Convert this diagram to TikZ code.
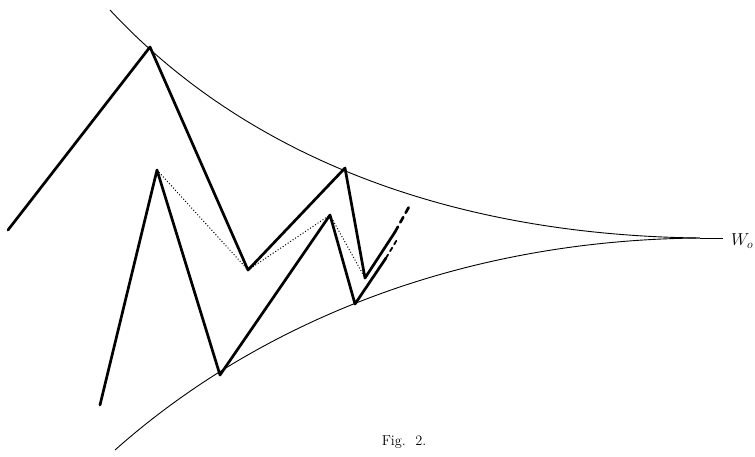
\documentclass[tikz,border=0pt]{standalone}
\usepackage{tikz}

\begin{document}
\begin{tikzpicture}[x=1pt,y=-1pt,
  edge/.style={line width=2.7pt,line cap=round,line join=round},
  bound/.style={line width=0.9pt},
  guide/.style={line width=1pt,dotted}]
\useasboundingbox (0,0) rectangle (755,456);
% envelope curves
\coordinate (top) at (110,10);
\coordinate (bot) at (115,450);
\coordinate (w) at (700,238);
\coordinate (wend) at (723,238);
\draw[bound] (top) .. controls (240,150) and (440,235) .. (w);
\draw[bound] (bot) .. controls (250,330) and (450,240) .. (w);
\draw[bound] (w) -- (wend);
\node[anchor=west,inner sep=0pt,font=\LARGE] (wlab) at (731,241) {$W_o$};
% outer zigzag
\coordinate (a0) at (8,230);  \coordinate (a1) at (150,47);
\coordinate (a2) at (248,270); \coordinate (a3) at (345,168);
\coordinate (a4) at (365,278); \coordinate (a5) at (395,232);
\coordinate (a6) at (410,205);
\draw[edge] (a0)--(a1)--(a2)--(a3)--(a4)--(a5);
\draw[edge,dash pattern=on 6pt off 5pt] (a5)--(a6);
% inner zigzag
\coordinate (b0) at (100,405); \coordinate (b1) at (157,170);
\coordinate (b2) at (220,375); \coordinate (b3) at (330,215);
\coordinate (b4) at (355,304); \coordinate (b5) at (386,258);
\coordinate (b6) at (398,238);
\draw[edge] (b0)--(b1)--(b2)--(b3)--(b4)--(b5);
\draw[edge,line width=1.8pt,dash pattern=on 4pt off 4pt] (b5)--(b6);
% dotted links
\draw[guide] (b1)--(a2)--(b3)--(a4);
\node[font=\Large] (cap) at (404,442) {Fig.\ \ 2.};
\end{tikzpicture}
\end{document}
